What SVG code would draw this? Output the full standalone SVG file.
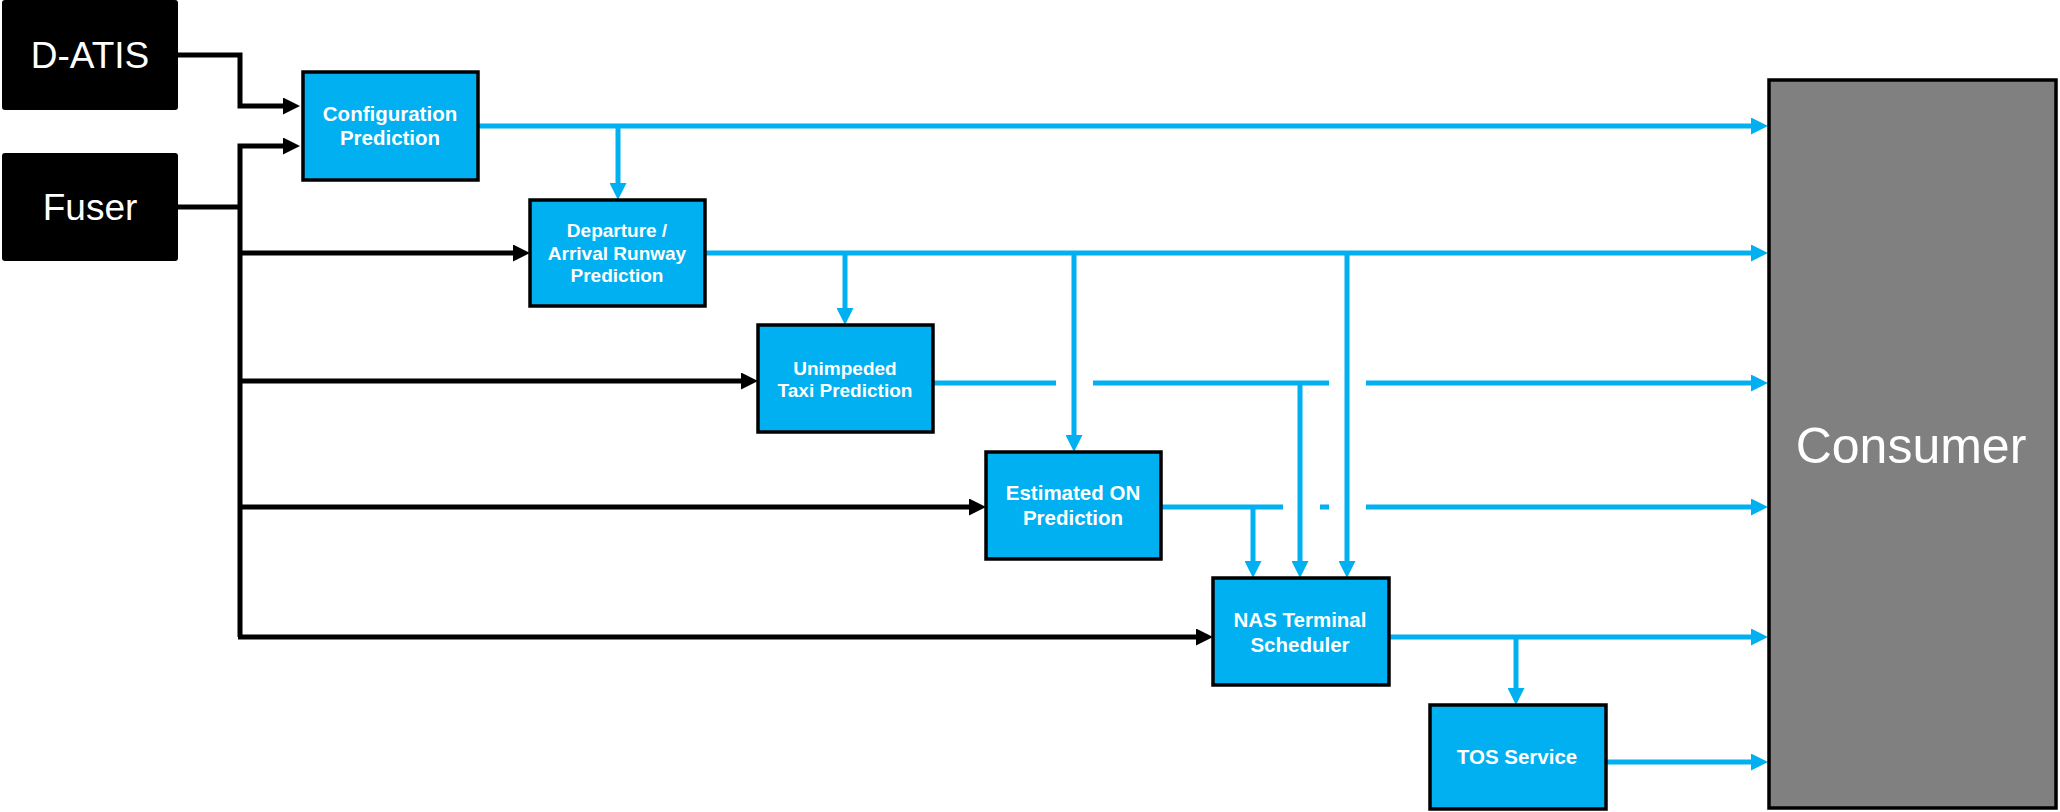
<svg xmlns="http://www.w3.org/2000/svg" width="2060" height="812" viewBox="0 0 2060 812">
<style>
.src{fill:#000;}
.srcT{fill:#fff;font-family:"Liberation Sans",Arial,sans-serif;font-size:37px;text-anchor:middle;}
.box{fill:#00B0F0;stroke:#000;stroke-width:3.5;}
.boxT{fill:#fff;font-family:"Liberation Sans",Arial,sans-serif;font-weight:bold;font-size:20.5px;text-anchor:middle;}
.blk{fill:none;stroke:#000;stroke-width:5;}
.blu{fill:none;stroke:#00B0F0;stroke-width:5;}
.cons{fill:#808080;stroke:#000;stroke-width:3.5;}
.consT{fill:#fff;font-family:"Liberation Sans",Arial,sans-serif;font-size:50px;text-anchor:middle;}
</style>
<defs>
<marker id="ab" markerUnits="userSpaceOnUse" markerWidth="17" markerHeight="17" refX="9" refY="8.5" orient="auto"><path d="M0,0 L17,8.5 L0,17 z" fill="#000"/></marker>
<marker id="ac" markerUnits="userSpaceOnUse" markerWidth="17" markerHeight="17" refX="9" refY="8.5" orient="auto"><path d="M0,0 L17,8.5 L0,17 z" fill="#00B0F0"/></marker>
</defs>
<rect width="2060" height="812" fill="#fff"/>
<g id="connectors">
<path class="blk" d="M178,55 H240 V106 H292" marker-end="url(#ab)"/>
<path class="blk" d="M178,207 H240"/>
<path class="blk" d="M240,637 V146 H292" marker-end="url(#ab)"/>
<path class="blk" d="M240,253 H522" marker-end="url(#ab)"/>
<path class="blk" d="M240,381 H750" marker-end="url(#ab)"/>
<path class="blk" d="M240,507 H978" marker-end="url(#ab)"/>
<path class="blk" d="M238,637 H1205" marker-end="url(#ab)"/>
<path class="blu" d="M478,126 H1760" marker-end="url(#ac)"/>
<path class="blu" d="M618,126 V192" marker-end="url(#ac)"/>
<path class="blu" d="M706,253 H1760" marker-end="url(#ac)"/>
<path class="blu" d="M845,253 V317" marker-end="url(#ac)"/>
<path class="blu" d="M1074,253 V444" marker-end="url(#ac)"/>
<path class="blu" d="M1347,253 V570" marker-end="url(#ac)"/>
<path class="blu" d="M933,383 H1056 M1093,383 H1329"/>
<path class="blu" d="M1366,383 H1760" marker-end="url(#ac)"/>
<path class="blu" d="M1300,383 V570" marker-end="url(#ac)"/>
<path class="blu" d="M1161,507 H1283 M1320,507 H1329"/>
<path class="blu" d="M1366,507 H1760" marker-end="url(#ac)"/>
<path class="blu" d="M1253,507 V570" marker-end="url(#ac)"/>
<path class="blu" d="M1389,637 H1760" marker-end="url(#ac)"/>
<path class="blu" d="M1516,637 V697" marker-end="url(#ac)"/>
<path class="blu" d="M1606,762 H1760" marker-end="url(#ac)"/>
</g>
<g id="datis"><rect class="src" x="2" y="0" width="176" height="110" rx="3"/><text class="srcT" x="90" y="68">D-ATIS</text></g>
<g id="fuser"><rect class="src" x="2" y="153" width="176" height="108" rx="3"/><text class="srcT" x="90" y="220">Fuser</text></g>
<g id="config"><rect class="box" x="303" y="72" width="175" height="108"/><text class="boxT" x="390" y="121">Configuration</text><text class="boxT" x="390" y="145">Prediction</text></g>
<g id="departure"><rect class="box" x="530" y="200" width="175" height="106"/><text class="boxT" x="617" y="237" style="font-size:19px">Departure /</text><text class="boxT" x="617" y="260" style="font-size:19px">Arrival Runway</text><text class="boxT" x="617" y="282" style="font-size:19px">Prediction</text></g>
<g id="unimpeded"><rect class="box" x="758" y="325" width="175" height="107"/><text class="boxT" x="845" y="375" style="font-size:19px">Unimpeded</text><text class="boxT" x="845" y="397" style="font-size:19px">Taxi Prediction</text></g>
<g id="eston"><rect class="box" x="986" y="452" width="175" height="107"/><text class="boxT" x="1073" y="500">Estimated ON</text><text class="boxT" x="1073" y="525">Prediction</text></g>
<g id="nas"><rect class="box" x="1213" y="578" width="176" height="107"/><text class="boxT" x="1300" y="627">NAS Terminal</text><text class="boxT" x="1300" y="652">Scheduler</text></g>
<g id="tos"><rect class="box" x="1430" y="705" width="176" height="104"/><text class="boxT" x="1517" y="764">TOS Service</text></g>
<g id="consumer"><rect class="cons" x="1769" y="80" width="287" height="728"/><text class="consT" x="1911" y="463">Consumer</text></g>
</svg>
